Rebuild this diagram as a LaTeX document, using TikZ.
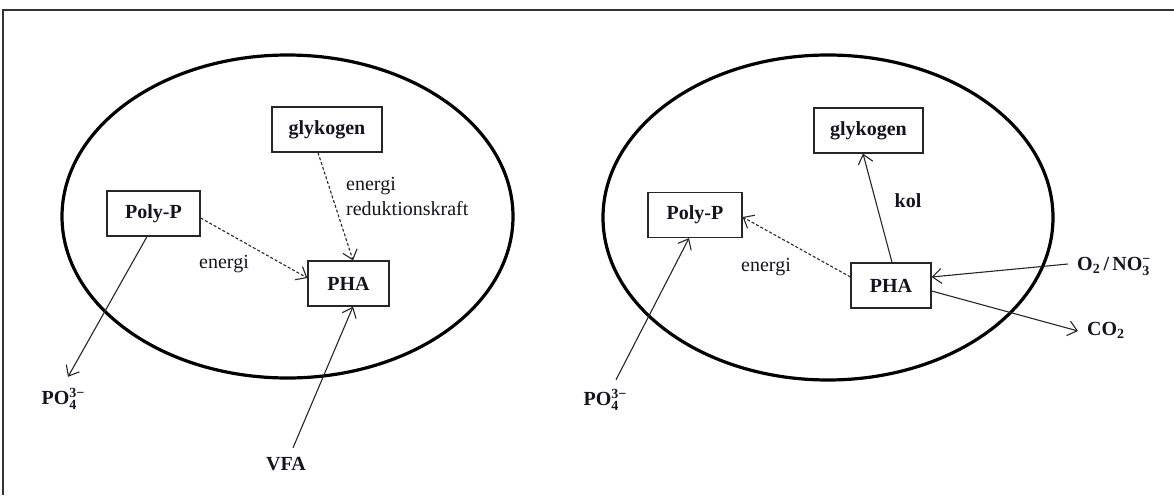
\documentclass[tikz,border=0pt]{standalone}
\usepackage{fontspec}
\setmainfont{Liberation Serif}
\usetikzlibrary{arrows.meta}
% stacked index pair (upper over lower) for ion formulas
\newcommand\chemidx[2]{{\fontsize{14}{14}\selectfont
  \setbox0\hbox{\raisebox{-5pt}{#1}}\setbox2\hbox{\raisebox{7pt}{#2}}%
  \ifdim\wd0>\wd2 \rlap{\box2}\box0 \else\rlap{\box0}\box2 \fi}}
\definecolor{ink}{HTML}{141420}
\begin{document}
\begin{tikzpicture}[x=1pt,y=-1pt,
  every node/.style={text=ink},
  box/.style={draw=black!85,line width=1.2pt,fill=white,minimum height=45pt,
              inner sep=0pt,font=\fontsize{20}{23}\selectfont\bfseries},
  lbl/.style={inner sep=0pt,text height=13pt,text depth=5pt,
              font=\fontsize{20}{23}\selectfont},
  chem/.style={lbl,font=\fontsize{20}{23}\selectfont\bfseries},
  cell/.style={line width=3.2pt,draw=black},
  arr/.style={draw=black!85,line width=1.1pt,-{Straight Barb[length=9pt,width=15pt]}},
  dasharr/.style={arr,dash pattern=on 3pt off 2pt}]
\useasboundingbox (0,0) rectangle (1174,495);
% open frame: top and left edges only
\draw[line width=1.6pt,draw=black!80] (3,495) -- (3,10) -- (1174,10);

% ---------- left cell ----------
\draw[cell] (287.5,216.5) ellipse [x radius=225.5pt,y radius=161.5pt];
\node[box,minimum width=110pt] (lgly)  at (327,129.5) {glykogen};
\node[box,minimum width=93pt]  (lpoly) at (153.5,213.5) {Poly-P};
\node[box,minimum width=81pt]  (lpha)  at (348.5,283.5) {PHA};
\node[lbl] (lenergi) at (224,264) {energi};
\node[lbl,anchor=west,align=left,font=\fontsize{20}{25}\selectfont,text height=,text depth=]
  (lreduk) at (346,196) {energi\\reduktionskraft};
\node[chem] (lpo4) at (63,400) {PO\chemidx{4}{3−}};
\node[chem] (vfa)  at (286,466) {VFA};

\draw[dasharr] ([xshift=-9pt]lgly.south) -- ([xshift=4.5pt]lpha.north);
\draw[dasharr] ([yshift=-4.5pt]lpoly.east) -- ([yshift=5.5pt]lpha.west);
\draw[arr] ([xshift=-6.5pt]lpoly.south) -- ([xshift=5pt,yshift=14pt]lpo4.north);
\draw[arr] ([xshift=7pt,yshift=9pt]vfa.north) -- ([xshift=4.5pt]lpha.south);

% ---------- right cell ----------
\draw[cell] (828,217.5) ellipse [x radius=225pt,y radius=162.5pt];
\node[box,minimum width=109pt] (rgly)  at (868.5,130.5) {glykogen};
\node[box,minimum width=94pt]  (rpoly) at (695,215) {Poly-P};
\node[box,minimum width=80pt]  (rpha)  at (891,285.5) {PHA};
\node[lbl] (renergi) at (766,267) {energi};
\node[chem] (kol) at (908,203) {kol};
\node[chem] (rpo4) at (605,401) {PO\chemidx{4}{3−}};
\node[chem,anchor=west] (ro2)  at (1077,266) {O\textsubscript{2}\,/\,NO\chemidx{3}{−}};
\node[chem,anchor=west] (rco2) at (1087,331) {CO\textsubscript{2}};

\draw[arr] ([xshift=1pt]rpha.north) -- ([xshift=-5.5pt]rgly.south);
\draw[dasharr] ([yshift=8.5pt]rpha.west) -- ([yshift=-2pt]rpoly.east);
\draw[arr] ([xshift=11pt,yshift=12pt]rpo4.north) -- ([xshift=-6pt]rpoly.south);
\draw[arr] ([xshift=-9pt,yshift=2pt]ro2.west) -- ([yshift=8.5pt]rpha.east);
\draw[arr] ([yshift=-5.5pt]rpha.east) -- ([xshift=-9pt]rco2.west);
\end{tikzpicture}
\end{document}
